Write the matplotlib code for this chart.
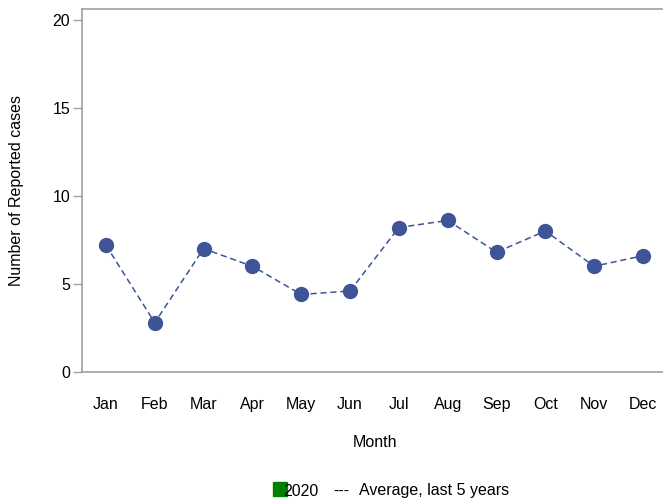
import numpy as np
import matplotlib
matplotlib.use('Agg')
import matplotlib.pyplot as plt
from matplotlib.patches import Rectangle

plt.rcParams['font.family'] = ['Liberation Sans', 'DejaVu Sans']

# data
months = ['Jan', 'Feb', 'Mar', 'Apr', 'May', 'Jun', 'Jul', 'Aug', 'Sep', 'Oct', 'Nov', 'Dec']
avg_5yr = [7.2, 2.8, 7.0, 6.0, 4.4, 4.6, 8.2, 8.6, 6.8, 8.0, 6.0, 6.6]
yticks = [0, 5, 10, 15, 20]

blue = '#3f5497'
grey = '#a0a0a0'

fig = plt.figure(figsize=(6.63, 5.03), dpi=100)
ax = fig.add_axes([82/663, 131/503, 581/663, 363/503])

x = np.arange(len(months))
ax.plot(x, avg_5yr, color=blue, lw=1.1, ls=(0, (4, 2.5)),
        marker='o', ms=10, mfc=blue, mec=blue)

ax.set_xlim(-0.49, 11.41)
ax.set_ylim(0, 20.6)
ax.set_xticks(x)
ax.set_xticklabels(months)
ax.set_yticks(yticks)

ax.spines['right'].set_visible(False)
for s in ['left', 'top', 'bottom']:
    ax.spines[s].set_color(grey)
    ax.spines[s].set_linewidth(1.2)

ax.tick_params(axis='y', length=6.5, width=1, color=grey, pad=2, labelsize=11.5)
ax.tick_params(axis='x', length=0, pad=18, labelsize=11.5)

ax.set_ylabel('Number of Reported cases', fontsize=11.5)
ax.yaxis.set_label_coords(-0.1, 0.5)
ax.set_xlabel('Month', fontsize=11.5, va='center')
ax.xaxis.set_label_coords(0.505, -0.195)

# legend
fig.patches.append(Rectangle((273/663, 1 - 496/503), 14/663, 14/503,
                             transform=fig.transFigure, color='#008000', zorder=1))
fig.text(283/663, 1 - 491/503, '2020', fontsize=11.5, va='center', zorder=2)
fig.text(333/663, 1 - 491/503, '---', fontsize=11.5, va='center')
fig.text(359/663, 1 - 491/503, 'Average, last 5 years', fontsize=11.5, va='center')

fig.savefig('out.png', dpi=100)
